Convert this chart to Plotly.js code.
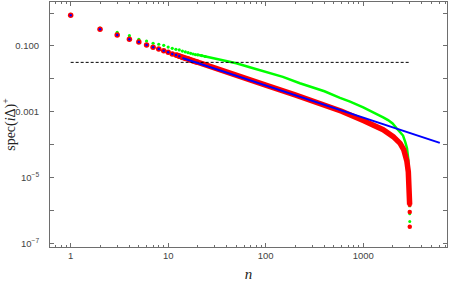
<!DOCTYPE html>
<html><head><meta charset="utf-8">
<script src="https://cdn.plot.ly/plotly-3.0.1.min.js"></script>
<style>body{margin:0;background:#fff}</style></head>
<body><div id="chart" style="width:450px;height:285px"></div>
<script>
// ---- data ----
const redN = [1,2,3,4,5,6,7,8,9,10,11,12,13,14,15,16,17,18,19,20];
const redY = [0.857,0.322,0.216,0.160,0.132,0.107,0.0913,0.081,0.072,0.064,0.057,0.053,0.049,0.045,0.042,0.040,0.037,0.035,0.033,0.032];
const redLineN = [12,14,20,40,70,100,200,400,600,1000,1270,1600,2030,2390,2600,2800,2900,2950,2980,2992];
const redLineY = [0.054,0.046,0.032,0.0162,0.0093,0.0065,0.00325,0.00165,0.00104,5.4e-4,4.1e-4,2.85e-4,1.76e-4,1.1e-4,7.1e-5,3.2e-5,1.5e-5,6.3e-6,2.5e-6,1.5e-6];
const redTailN = [2996,2998,3000];
const redTailY = [1.5e-6,9e-7,3.2e-7];

const greenN = [1,2,3,4,5,6,7,8,9,10,11,12,13,14,15,16,17,18,19,20,22,24];
const greenY = [0.92,0.352,0.261,0.206,0.160,0.142,0.121,0.113,0.105,0.093,0.085,0.079,0.076,0.070,0.066,0.0626,0.060,0.057,0.055,0.054,0.051,0.048];
const greenLineN = [20,30,50,70,100,150,224,300,400,578,733,1000,1270,1600,1797,2000,2208,2400,2560,2700,2810,2900,2950,2980,2995];
const greenLineY = [0.054,0.0423,0.0298,0.0222,0.0164,0.0115,0.0074,0.0056,0.0042,0.00266,0.00204,0.00136,9.8e-4,6.8e-4,5.6e-4,4.4e-4,3.1e-4,2.4e-4,1.9e-4,1.2e-4,7.8e-5,3.5e-5,1.26e-5,4e-6,1.26e-6];
const greenTailN = [2997,3000];
const greenTailY = [8e-7,4.6e-7];

const blueN = [1,2,3,4,5,6,7,8,9,10,11,12,13];
const blueY = [0.857,0.322,0.216,0.160,0.132,0.107,0.0913,0.081,0.072,0.064,0.057,0.053,0.049];
const blueLineN = [14,6100];
const blueLineY = [0.0431,1.14e-4];

const refN = [1,3000];
const refY = [0.0318,0.0318];

const xTickVals = [1,10,100,1000];
const xTickText = ['1','10','100','1000'];
const yTickVals = [0.1,0.001,1e-5,1e-7];
const yTickText = ['0.100','0.001','10<sup>−5</sup>','10<sup>−7</sup>'];
const yUnlabeled = [1,0.01,1e-4,1e-6];

// minor tick positions on x (2..9 of each decade)
const xMinor = [];
for (const d of [0.1,1,10,100,1000]) for (let k=2;k<=9;k++) xMinor.push(k*d);

const RED='rgb(255,0,0)', GREEN='rgb(0,255,0)', BLUE='rgb(0,0,255)';
const traces = [
  {x:greenLineN,y:greenLineY,mode:'lines',line:{color:GREEN,width:2.5},hoverinfo:'skip'},
  {x:greenN,y:greenY,mode:'markers',marker:{color:GREEN,size:3.2},hoverinfo:'skip'},
  {x:greenTailN,y:greenTailY,mode:'markers',marker:{color:GREEN,size:3},hoverinfo:'skip'},
  {x:redLineN,y:redLineY,mode:'lines',line:{color:RED,width:5.5},hoverinfo:'skip'},
  {x:redN,y:redY,mode:'markers',marker:{color:RED,size:5.5},hoverinfo:'skip'},
  {x:redTailN,y:redTailY,mode:'markers',marker:{color:RED,size:4.5},hoverinfo:'skip'},
  {x:refN,y:refY,mode:'lines',line:{color:'black',width:1,dash:'3px,2px'},hoverinfo:'skip'},
  {x:blueLineN,y:blueLineY,mode:'lines',line:{color:BLUE,width:2},hoverinfo:'skip'},
  {x:blueN,y:blueY,mode:'markers',marker:{color:BLUE,size:2.5},hoverinfo:'skip'}
];

const frame = '#6e6e6e';
const tickFont = {family:'Liberation Sans, Arial, sans-serif', size:9.5, color:'#444'};
const layout = {
  width:450,height:285,
  margin:{l:50,r:3,t:2,b:38},
  paper_bgcolor:'#fff',plot_bgcolor:'#fff',
  showlegend:false,
  xaxis:{type:'log',range:[-0.212,3.859],showgrid:false,zeroline:false,
    showline:true,linecolor:frame,linewidth:1,mirror:'ticks',
    ticks:'inside',ticklen:4,tickcolor:frame,tickwidth:1,
    tickmode:'array',tickvals:xTickVals,ticktext:xTickText,tickfont:tickFont,
    minor:{tickmode:'array',tickvals:xMinor,ticks:'inside',ticklen:2,tickcolor:frame,tickwidth:1,showgrid:false},
    title:{text:'<i>n</i>',font:{family:'Liberation Serif, Times New Roman, serif',size:15,color:'#222'},standoff:8}},
  yaxis:{type:'log',range:[-7.109,0.337],showgrid:false,zeroline:false,
    showline:true,linecolor:frame,linewidth:1,mirror:'ticks',
    ticks:'inside',ticklen:4,tickcolor:frame,tickwidth:1,
    tickmode:'array',tickvals:yTickVals,ticktext:yTickText,tickfont:tickFont,
    minor:{tickmode:'array',tickvals:yUnlabeled,ticks:'inside',ticklen:4,tickcolor:frame,tickwidth:1,showgrid:false},
    ticklabelstandoff:8,
    title:{text:'spec(<i>i</i>Δ)<sup>+</sup>',font:{family:'Liberation Serif, Times New Roman, serif',size:14,color:'#222'},standoff:4}}
};
Plotly.newPlot('chart',traces,layout,{staticPlot:true,displayModeBar:false});
</script></body></html>
